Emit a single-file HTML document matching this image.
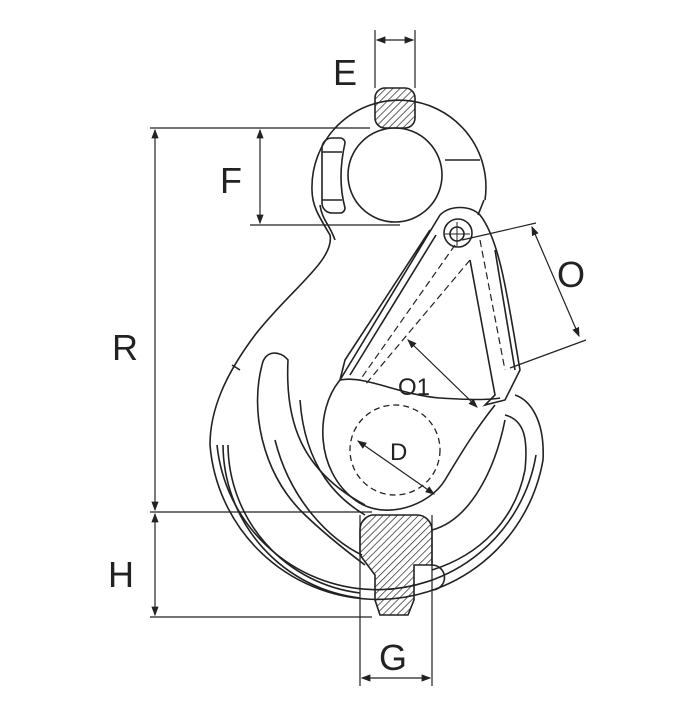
<!DOCTYPE html>
<html><head><meta charset="utf-8"><style>
html,body{margin:0;padding:0;background:#fff;}
svg{display:block;}
text{font-family:"Liberation Sans",sans-serif;fill:#222;}
</style></head><body>
<svg width="682" height="706" viewBox="0 0 682 706" xmlns="http://www.w3.org/2000/svg">
<defs>
<pattern id="h" width="5" height="5" patternUnits="userSpaceOnUse" patternTransform="rotate(45)">
<line x1="0" y1="0" x2="0" y2="5" stroke="#222" stroke-width="1.4"/>
</pattern>
<marker id="a" markerWidth="8" markerHeight="8" refX="7" refY="4" orient="auto-start-reverse"><path d="M0,1 L8,4 L0,7z" fill="#222"/></marker>
</defs>
<g fill="none" stroke="#222" stroke-width="1.6">
<!-- dimension lines -->
<g stroke-width="1.2">
<line x1="150" y1="128" x2="370" y2="128"/>
<line x1="150" y1="512" x2="372" y2="512"/>
<line x1="150" y1="617" x2="372" y2="617"/>
<line x1="155" y1="130" x2="155" y2="510" marker-start="url(#a)" marker-end="url(#a)"/>
<line x1="155" y1="514" x2="155" y2="615" marker-start="url(#a)" marker-end="url(#a)"/>
<line x1="250" y1="225" x2="400" y2="225"/>
<line x1="260" y1="130" x2="260" y2="223" marker-start="url(#a)" marker-end="url(#a)"/>
<line x1="375" y1="30" x2="375" y2="88"/>
<line x1="415" y1="30" x2="415" y2="88"/>
<line x1="377" y1="40" x2="413" y2="40" marker-start="url(#a)" marker-end="url(#a)"/>
<line x1="360" y1="515" x2="360" y2="686"/>
<line x1="432" y1="515" x2="432" y2="686"/>
<line x1="362" y1="678" x2="430" y2="678" marker-start="url(#a)" marker-end="url(#a)"/>
<line x1="462" y1="240" x2="536" y2="223"/>
<line x1="510" y1="368" x2="586" y2="340"/>
<line x1="532" y1="227" x2="579" y2="336" marker-start="url(#a)" marker-end="url(#a)"/>
<line x1="408" y1="340" x2="477" y2="407" marker-start="url(#a)" marker-end="url(#a)"/>
<line x1="358" y1="441" x2="434" y2="494" marker-start="url(#a)" marker-end="url(#a)"/>
</g>
<!-- eye -->
<path d="M485,200 A87,87 0 1 0 312,190 C312,205 318,215 330,235 C335,260 290,290 255,335 C225,375 210,410 210,445"/>
<path d="M484,200 L478,215"/>
<circle cx="395" cy="175" r="47"/>
<line x1="445" y1="160" x2="480" y2="160"/>
<rect x="375" y="88" width="40" height="40" rx="10" fill="url(#h)"/>
<path d="M332,138 h8 a5,5 0 0 1 5,5 q-8,35 0,65 a5,5 0 0 1 -5,5 h-8 a10,10 0 0 1 -10,-10 v-55 a10,10 0 0 1 10,-10z"/>
<line x1="322" y1="152" x2="342" y2="152"/><line x1="322" y1="200" x2="342" y2="200"/>
<path d="M320,205 C322,220 330,225 335,240"/>
<!-- hook outer -->
<path d="M210,445 A168,168 0 0 0 543,460 C545,420 530,400 515,395"/>
<path d="M217,445 A161,161 0 0 0 536,455"/>
<path d="M223,445 A155,155 0 0 0 360,598"/>
<path d="M228,445 A150,150 0 0 0 360,593"/>
<path d="M240,370 L232,365"/>
<!-- inner slot -->
<path d="M262,365 C250,410 262,470 300,510 C320,530 345,550 365,565"/>
<path d="M262,365 C265,350 280,350 288,360 C285,420 300,470 365,505"/>
<path d="M275,440 C290,500 330,540 362,555"/>
<path d="M300,400 C305,470 340,500 365,515"/>
<path d="M432,570 C480,555 515,520 525,470 C528,440 525,420 505,415"/>
<path d="M432,530 C470,520 495,470 505,420"/>
<!-- throat -->
<path d="M340,380 C315,410 315,470 355,500 C385,522 430,505 445,480 C460,455 475,430 495,405"/>
<path d="M340,380 C365,375 400,395 440,398 C470,400 490,400 500,398"/>
<circle cx="395" cy="450" r="45" stroke-dasharray="6,4" stroke-width="1.3"/>
<!-- latch -->
<path d="M440,215 C450,205 470,205 480,215 C500,240 508,300 520,370 L505,400 L485,405 L495,395 L470,260"/>
<path d="M440,215 L340,380 L345,360 L430,230"/>
<path d="M436,235 L350,375"/>
<path d="M455,245 L360,380" stroke-dasharray="7,4" stroke-width="1.2"/>
<path d="M470,260 L365,385" stroke-dasharray="7,4" stroke-width="1.2"/>
<path d="M480,240 L505,370" stroke-dasharray="7,4" stroke-width="1.2"/>
<path d="M495,250 L515,370"/>
<circle cx="458" cy="233" r="14"/>
<circle cx="457" cy="234" r="7"/>
<line x1="445" y1="234" x2="470" y2="234" stroke-width="1"/><line x1="457" y1="222" x2="457" y2="246" stroke-width="1"/>
<!-- G section -->
<path d="M372,515 h45 a15,15 0 0 1 15,15 v35 h-18 v35 l-6,15 h-28 l-5,-15 v-25 l-15,-20 v-25 a15,15 0 0 1 12,-15z" fill="url(#h)"/>
<path d="M432,565 a12,12 0 0 1 0,25"/>
</g>
<text x="333" y="85" font-size="36">E</text>
<text x="220" y="193" font-size="36">F</text>
<text x="112" y="360" font-size="36">R</text>
<text x="108" y="587" font-size="36">H</text>
<text x="379" y="670" font-size="36">G</text>
<text x="557" y="287" font-size="36">O</text>
<text x="398" y="395" font-size="24">O1</text>
<text x="390" y="460" font-size="24">D</text>
</svg>
</body></html>
